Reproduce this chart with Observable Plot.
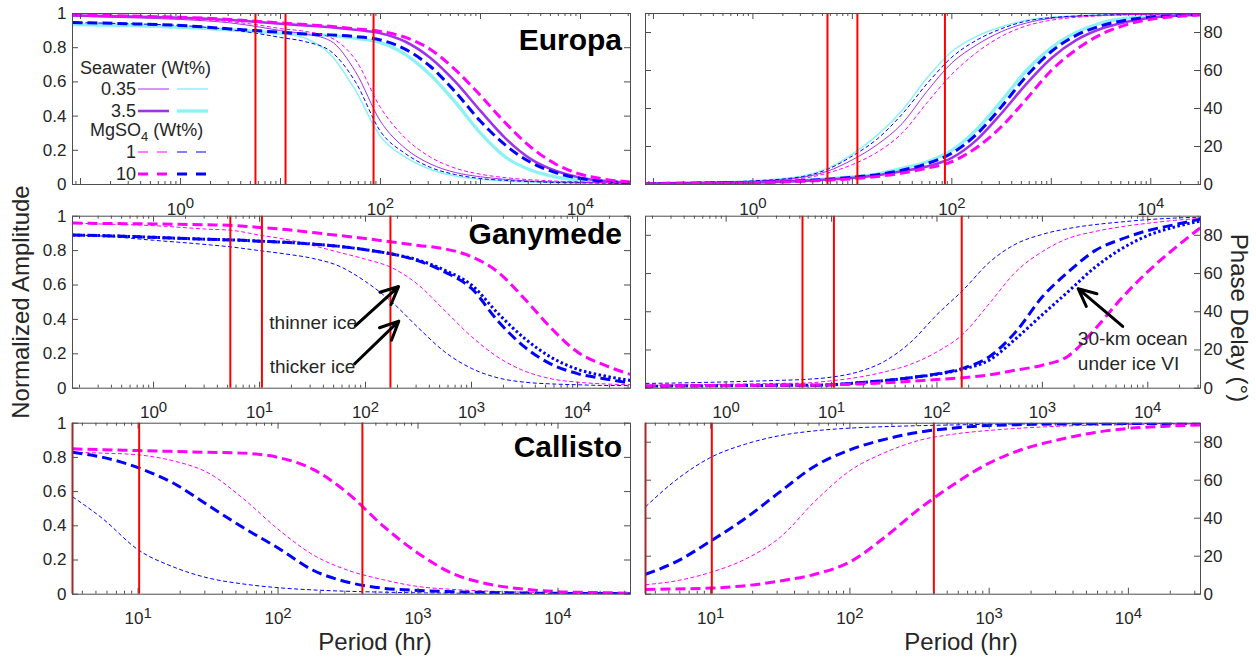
<!DOCTYPE html>
<html><head><meta charset="utf-8">
<script src="https://cdn.jsdelivr.net/npm/d3@7"></script>
<script src="https://cdn.jsdelivr.net/npm/@observablehq/plot@0.6"></script>
<style>
body{margin:0;background:#fff;}
#fig{position:relative;width:1256px;height:658px;overflow:hidden;background:#fff;}
#fig svg{position:absolute;overflow:visible;}
</style></head><body><div id="fig"></div>
<script>
// ---------------- DATA ----------------
// Europa (periods in hours)
const europaPeriods = [0.083,0.316,1,3.16,5.62,10,17.8,31.6,56.2,100,178,316,562,1000,1778,3162,5623,10000,17783,31623];
const europaTidal = [5.62, 11.23, 85.23];
// amplitude
const eAmpSea035a = [0.985,0.975,0.965,0.945,0.925,0.90,0.88,0.84,0.66,0.37,0.21,0.12,0.07,0.045,0.03,0.02,0.015,0.012,0.01,0.008];
const eAmpSea035b = [0.932,0.925,0.915,0.90,0.892,0.885,0.855,0.76,0.55,0.28,0.16,0.088,0.05,0.03,0.02,0.014,0.01,0.008,0.006,0.005];
const eAmpSea35a  = [0.988,0.982,0.975,0.962,0.952,0.94,0.93,0.92,0.905,0.885,0.835,0.74,0.60,0.43,0.27,0.15,0.08,0.04,0.02,0.01];
const eAmpSea35b  = [0.935,0.93,0.92,0.905,0.895,0.885,0.878,0.87,0.855,0.83,0.76,0.64,0.48,0.30,0.16,0.085,0.045,0.023,0.012,0.008];
const eAmpMg1a    = [0.988,0.98,0.97,0.952,0.935,0.912,0.895,0.86,0.73,0.45,0.27,0.16,0.095,0.06,0.04,0.028,0.02,0.015,0.012,0.01];
const eAmpMg1b    = [0.947,0.94,0.93,0.905,0.885,0.86,0.835,0.78,0.60,0.31,0.18,0.10,0.058,0.035,0.024,0.017,0.012,0.01,0.008,0.006];
const eAmpMg10a   = [0.992,0.985,0.978,0.965,0.955,0.945,0.935,0.925,0.91,0.895,0.86,0.79,0.67,0.52,0.36,0.22,0.12,0.06,0.03,0.015];
const eAmpMg10b   = [0.947,0.94,0.93,0.91,0.90,0.89,0.88,0.875,0.865,0.845,0.79,0.69,0.54,0.37,0.23,0.13,0.07,0.035,0.018,0.01];
// phase (degrees)
const ePhSea035a = [0.7,1.1,1.7,3.8,7,13,21,32,49,64,73.5,80.5,85,87.5,88.5,89,89.4,89.6,89.8,90];
const ePhSea035b = [0.8,1.2,2,4.5,8.5,16,26,39,56,70,78,83,86.5,88,88.8,89.3,89.6,89.8,89.9,90];
const ePhSea35a  = [0.5,0.7,1,1.9,2.6,3.5,4.8,7,9.5,14,23.5,37.5,53,66.5,76,82,85.5,87.8,88.8,89.4];
const ePhSea35b  = [0.5,0.8,1.2,2.2,3,4,5.5,8.5,12,18,29,44,60,72,80,85,87.5,88.7,89.3,89.6];
const ePhMg1a    = [0.6,1,1.5,3.2,6,10.5,17,27,43,58,69.5,78,83.5,86.5,88,88.8,89.3,89.6,89.8,90];
const ePhMg1b    = [0.8,1.2,1.9,4.2,8,15,24,37,53,67,76,82,86,87.8,88.7,89.2,89.5,89.7,89.85,90];
const ePhMg10a   = [0.4,0.6,0.9,1.7,2.3,3,4.2,6,8.5,12,19.5,30.5,45,60,71,79,84,87,88.4,89.2];
const ePhMg10b   = [0.5,0.75,1.1,2,2.8,3.8,5.2,7.5,11,16.5,26.5,41,57,70,78.5,83.5,86.5,88.2,89,89.5];

// Ganymede
const ganymedePeriods = [0.172,0.316,1,3.16,5.62,10,17.8,31.6,56.2,100,178,316,562,1000,1778,3162,5623,10000,17783,31623];
const ganymedeTidal = [5.3, 10.53, 171.7];
const gAmpMg10a = [0.96,0.958,0.955,0.95,0.946,0.935,0.922,0.905,0.888,0.87,0.85,0.83,0.81,0.765,0.675,0.52,0.35,0.21,0.135,0.08];
const gAmpMg1a  = [0.96,0.955,0.945,0.925,0.917,0.89,0.865,0.83,0.79,0.75,0.70,0.60,0.45,0.30,0.18,0.10,0.055,0.035,0.025,0.02];
const gAmpMg1b  = [0.89,0.885,0.86,0.835,0.82,0.80,0.78,0.755,0.71,0.62,0.50,0.35,0.21,0.115,0.06,0.035,0.025,0.02,0.016,0.015];
const gAmpMg10b = [0.89,0.887,0.877,0.866,0.862,0.855,0.848,0.838,0.825,0.805,0.78,0.74,0.675,0.58,0.39,0.24,0.14,0.085,0.055,0.03];
const gAmpIceVI = [0.89,0.887,0.877,0.866,0.862,0.855,0.848,0.838,0.825,0.805,0.78,0.745,0.685,0.60,0.435,0.29,0.18,0.11,0.072,0.045];
const gPhMg1b   = [2.5,2.7,3.3,4.1,4.6,5.8,8.5,14,24,38.5,51.5,66,75.5,80.5,83.6,85.6,87,88.2,89,89.5];
const gPhMg1a   = [1.5,1.7,2.1,2.5,2.7,3.9,5.7,8.5,12.5,19,28.5,44.5,61,71.5,78.5,82,84.5,86.3,87.8,88.8];
const gPhMg10b  = [1,1.1,1.3,1.5,1.5,1.8,2.8,4,5.5,7.5,10.5,16.6,29.6,47.8,61,72,78,82.5,85.5,88.5];
const gPhIceVI  = [1,1.1,1.3,1.5,1.5,1.8,2.8,4,5.5,7.3,10,14.8,26,38.5,50.8,63.3,72.9,79.9,84.3,87.5];
const gPhMg10a  = [1.2,1.3,1.4,1.5,1.5,1.8,2.2,2.8,3.6,4.5,5.5,7,9.5,12,17,31,47,61,73,84];

// Callisto
const callistoPeriods = [3.4,5.62,10,17.8,31.6,56.2,100,178,316,562,1000,1778,3162,5623,10000,17783,32960];
const callistoTidal = [3.4, 10.18, 400.5];
const cAmpMg10a = [0.85,0.845,0.84,0.835,0.83,0.825,0.80,0.73,0.59,0.40,0.24,0.12,0.06,0.03,0.015,0.01,0.006];
const cAmpMg1a  = [0.83,0.825,0.815,0.78,0.71,0.56,0.38,0.23,0.14,0.085,0.045,0.028,0.018,0.012,0.008,0.006,0.004];
const cAmpMg10b = [0.83,0.80,0.74,0.65,0.52,0.39,0.27,0.14,0.07,0.035,0.022,0.014,0.01,0.007,0.005,0.004,0.003];
const cAmpMg1b  = [0.57,0.44,0.26,0.16,0.095,0.06,0.038,0.025,0.017,0.012,0.008,0.006,0.005,0.004,0.003,0.003,0.002];
const cPhMg1b   = [46,60,72,79,83.5,86,87.4,88.2,88.7,89.1,89.4,89.6,89.7,89.8,89.85,89.9,89.9];
const cPhMg10b  = [10.5,17,28,40,54,67.5,76,81.5,85.3,87.5,88.8,89.3,89.6,89.7,89.8,89.85,89.9];
const cPhMg1a   = [5,7,11.5,18.5,30,49,65,74.5,81,84.3,86.2,87.5,88.4,89,89.3,89.5,89.7];
const cPhMg10a  = [2.5,2.8,3.2,4.5,7,10.5,17,30,45,58,69,76.5,81.3,85,87.2,88.3,89.1];

// axes / labels
const ampTicks = [0, 0.2, 0.4, 0.6, 0.8, 1];
const phaseTicks = [0, 20, 40, 60, 80];
const topRowLabels = [1, 100, 10000];
const midRowLabels = [1, 10, 100, 1000, 10000];
const botRowLabels = [10, 100, 1000, 10000];
const moonNames = ["Europa", "Ganymede", "Callisto"];
const legendRows = ["0.35", "3.5", "1", "10"];

// annotations (data coordinates: period, value)
const ganymedeAmpArrows = [
  {x1: 80, y1: 0.363, x2: 205, y2: 0.591},
  {x1: 79, y1: 0.142, x2: 206, y2: 0.39}
];
const ganymedeAmpNotes = [
  {x: 83, y: 0.381, text: "thinner ice"},
  {x: 80, y: 0.122, text: "thicker ice"}
];
const ganymedePhaseArrows = [{x1: 5785, y1: 32.3, x2: 2184, y2: 52.1}];
const ganymedePhaseNotes = [{x: 2170, y: 20.2, text: "30-km ocean\nunder ice VI"}];

// ---------------- STYLES ----------------
const FONT = "'Liberation Sans', Arial, Helvetica, sans-serif";
const AX = "#4d4d4d";
const TXT = "#262626";
const PURPLE = "#a033e8", CYAN = "#8cf2f6", MAGENTA = "#ff00ff", BLUE = "#0000ff";
const ST = {
  sea035a: {stroke: PURPLE, strokeWidth: 1},
  sea035b: {stroke: CYAN, strokeWidth: 1.5},
  sea35a:  {stroke: PURPLE, strokeWidth: 2.6},
  sea35b:  {stroke: CYAN, strokeWidth: 3.3},
  mg1a:    {stroke: MAGENTA, strokeWidth: 1, strokeDasharray: "4,2.5"},
  mg1b:    {stroke: BLUE, strokeWidth: 1, strokeDasharray: "4,2.5"},
  mg10a:   {stroke: MAGENTA, strokeWidth: 3, strokeDasharray: "10,5"},
  mg10b:   {stroke: BLUE, strokeWidth: 3, strokeDasharray: "10,5"},
  iceVI:   {stroke: BLUE, strokeWidth: 3, strokeDasharray: "2.5,2.5"}
};

const COLS = [{left: 0, width: 640, mL: 72, mR: 10}, {left: 635, width: 621, mL: 10, mR: 56}];
const ROWS = [
  {top: 0, height: 215, mT: 13, mB: 31, domain: [0.0832, 31623]},
  {top: 200, height: 230, mT: 15.7, mB: 42.3, domain: [0.1718, 31623]},
  {top: 410, height: 220, mT: 12.7, mB: 36.3, domain: [3.4, 32960]}
];

const fig = document.getElementById("fig");

function panel(r, c, cfg) {
  const R = ROWS[r], C = COLS[c];
  const fw = C.width - C.mL - C.mR, fh = R.height - R.mT - R.mB;
  const [d0, d1] = R.domain;
  const major = [], minor = [];
  for (let k = Math.floor(Math.log10(d0)); k <= Math.ceil(Math.log10(d1)); k++) {
    for (let m = 1; m <= 9; m++) {
      const v = m * Math.pow(10, k);
      if (v < d0 * 0.999 || v > d1 * 1.001) continue;
      (m === 1 ? major : minor).push(v);
    }
  }
  const marks = [];
  for (const s of cfg.series) {
    const pts = s.values.map((v, i) => ({p: cfg.periods[i], v}));
    marks.push(Plot.line(pts, {x: "p", y: "v", curve: "monotone-x", clip: true, strokeLinecap: "butt", strokeLinejoin: "round", ...ST[s.style]}));
  }
  marks.push(Plot.ruleX(cfg.tidal, {x: d => d, stroke: "#ff0000", strokeWidth: 2}));
  // box ticks (inward)
  marks.push(Plot.tickX(major, {x: d => d, stroke: AX, insetTop: fh - 6}));
  marks.push(Plot.tickX(major, {x: d => d, stroke: AX, insetBottom: fh - 6}));
  marks.push(Plot.tickX(minor, {x: d => d, stroke: AX, insetTop: fh - 3}));
  marks.push(Plot.tickX(minor, {x: d => d, stroke: AX, insetBottom: fh - 3}));
  marks.push(Plot.tickY(cfg.yTicks, {y: d => d, stroke: AX, insetRight: fw - 6}));
  marks.push(Plot.tickY(cfg.yTicks, {y: d => d, stroke: AX, insetLeft: fw - 6}));
  marks.push(Plot.frame({stroke: AX, strokeWidth: 1}));
  marks.push(Plot.axisX(cfg.xLabels, {anchor: "bottom", label: null, tickSize: 0, tickPadding: 18, fontSize: 17, fill: TXT,
    tickFormat: d => "10^" + Math.round(Math.log10(d))}));
  marks.push(Plot.axisY(cfg.yTicks, {anchor: c === 0 ? "left" : "right", label: null, tickSize: 0, tickPadding: c === 0 ? 6 : 3, fontSize: 17, fill: TXT,
    tickFormat: d => String(d)}));
  if (cfg.extra) marks.push(...cfg.extra);
  const svg = Plot.plot({
    width: C.width, height: R.height,
    marginLeft: C.mL, marginRight: C.mR, marginTop: R.mT, marginBottom: R.mB,
    x: {type: "log", domain: R.domain, label: null},
    y: {domain: cfg.yDomain, label: null},
    style: {fontFamily: FONT, fontSize: "17px", color: TXT, background: "transparent", overflow: "visible"},
    marks
  });
  // superscript exponents in tick labels
  d3.select(svg).selectAll("text").each(function() {
    const m = /^10\^(\d)$/.exec(this.textContent);
    if (!m) return;
    const t = d3.select(this);
    t.text(null);
    t.append("tspan").text("10");
    t.append("tspan").attr("dy", "-0.45em").attr("font-size", "0.88em").text(m[1]);
  });
  svg.style.left = C.left + "px";
  svg.style.top = R.top + "px";
  fig.appendChild(svg);
  return svg;
}

// Europa
panel(0, 0, {periods: europaPeriods, tidal: europaTidal, yDomain: [0, 1], yTicks: ampTicks, xLabels: topRowLabels,
  series: [
    {values: eAmpSea035b, style: "sea035b"}, {values: eAmpSea35b, style: "sea35b"},
    {values: eAmpSea035a, style: "sea035a"}, {values: eAmpSea35a, style: "sea35a"},
    {values: eAmpMg1b, style: "mg1b"}, {values: eAmpMg10b, style: "mg10b"},
    {values: eAmpMg1a, style: "mg1a"}, {values: eAmpMg10a, style: "mg10a"}
  ]});
panel(0, 1, {periods: europaPeriods, tidal: europaTidal, yDomain: [0, 90], yTicks: phaseTicks, xLabels: topRowLabels,
  series: [
    {values: ePhSea035b, style: "sea035b"}, {values: ePhSea35b, style: "sea35b"},
    {values: ePhSea035a, style: "sea035a"}, {values: ePhSea35a, style: "sea35a"},
    {values: ePhMg1b, style: "mg1b"}, {values: ePhMg10b, style: "mg10b"},
    {values: ePhMg1a, style: "mg1a"}, {values: ePhMg10a, style: "mg10a"}
  ]});
// Ganymede
panel(1, 0, {periods: ganymedePeriods, tidal: ganymedeTidal, yDomain: [0, 1], yTicks: ampTicks, xLabels: midRowLabels,
  series: [
    {values: gAmpMg1b, style: "mg1b"}, {values: gAmpMg1a, style: "mg1a"},
    {values: gAmpMg10b, style: "mg10b"}, {values: gAmpIceVI, style: "iceVI"},
    {values: gAmpMg10a, style: "mg10a"}
  ],
  extra: [
    Plot.arrow(ganymedeAmpArrows, {x1: "x1", y1: "y1", x2: "x2", y2: "y2", stroke: "black", strokeWidth: 3, headLength: 12, headAngle: 50}),
    Plot.text(ganymedeAmpNotes, {x: "x", y: "y", text: "text", textAnchor: "end", lineAnchor: "middle", fontSize: 19, fill: TXT})
  ]});
panel(1, 1, {periods: ganymedePeriods, tidal: ganymedeTidal, yDomain: [0, 90], yTicks: phaseTicks, xLabels: midRowLabels,
  series: [
    {values: gPhMg1b, style: "mg1b"}, {values: gPhMg1a, style: "mg1a"},
    {values: gPhMg10b, style: "mg10b"}, {values: gPhIceVI, style: "iceVI"},
    {values: gPhMg10a, style: "mg10a"}
  ],
  extra: [
    Plot.arrow(ganymedePhaseArrows, {x1: "x1", y1: "y1", x2: "x2", y2: "y2", stroke: "black", strokeWidth: 3, headLength: 12, headAngle: 50}),
    Plot.text(ganymedePhaseNotes, {x: "x", y: "y", text: "text", textAnchor: "start", lineAnchor: "middle", lineHeight: 1.32, fontSize: 19, fill: TXT})
  ]});
// Callisto
panel(2, 0, {periods: callistoPeriods, tidal: callistoTidal, yDomain: [0, 1], yTicks: ampTicks, xLabels: botRowLabels,
  series: [
    {values: cAmpMg1b, style: "mg1b"}, {values: cAmpMg1a, style: "mg1a"},
    {values: cAmpMg10b, style: "mg10b"}, {values: cAmpMg10a, style: "mg10a"}
  ]});
panel(2, 1, {periods: callistoPeriods, tidal: callistoTidal, yDomain: [0, 90], yTicks: phaseTicks, xLabels: botRowLabels,
  series: [
    {values: cPhMg1b, style: "mg1b"}, {values: cPhMg1a, style: "mg1a"},
    {values: cPhMg10b, style: "mg10b"}, {values: cPhMg10a, style: "mg10a"}
  ]});

// ---------------- page-level text & legend ----------------
const ov = d3.create("svg").attr("width", 1256).attr("height", 658)
  .style("left", "0px").style("top", "0px").style("pointer-events", "none")
  .attr("font-family", FONT).attr("fill", TXT);

// moon names
[[49.5, moonNames[0]], [244, moonNames[1]], [456.5, moonNames[2]]].forEach(([y, t]) =>
  ov.append("text").attr("x", 622).attr("y", y).attr("text-anchor", "end")
    .attr("font-size", 30).attr("font-weight", "bold").attr("fill", "#000").text(t));

// axis titles
ov.append("text").attr("transform", "translate(29,302) rotate(-90)").attr("text-anchor", "middle")
  .attr("font-size", 24).text("Normalized Amplitude");
ov.append("text").attr("transform", "translate(1231,318) rotate(90)").attr("text-anchor", "middle")
  .attr("font-size", 24).text("Phase Delay (°)");
ov.append("text").attr("x", 375).attr("y", 650).attr("text-anchor", "middle").attr("font-size", 24).text("Period (hr)");
ov.append("text").attr("x", 961).attr("y", 650).attr("text-anchor", "middle").attr("font-size", 24).text("Period (hr)");

// legend
const lg = ov.append("g").attr("font-size", 18);
lg.append("text").attr("x", 80).attr("y", 74).text("Seawater (Wt%)");
const mg = lg.append("text").attr("x", 90).attr("y", 136);
mg.append("tspan").text("MgSO");
mg.append("tspan").attr("dy", 5).attr("font-size", 13).text("4");
mg.append("tspan").attr("dy", -5).text(" (Wt%)");
const legendY = [95, 117, 158, 180];
const legendStyles = [["sea035a", "sea035b"], ["sea35a", "sea35b"], ["mg1a", "mg1b"], ["mg10a", "mg10b"]];
legendRows.forEach((lab, i) => {
  lg.append("text").attr("x", 136).attr("y", legendY[i]).attr("text-anchor", "end").text(lab);
  const ly = legendY[i] - 6;
  legendStyles[i].forEach((k, j) => {
    const s = ST[k];
    lg.append("line").attr("x1", j ? 177 : 138).attr("x2", j ? 208 : 169).attr("y1", ly).attr("y2", ly)
      .attr("stroke", s.stroke).attr("stroke-width", s.strokeWidth)
      .attr("stroke-dasharray", s.strokeDasharray ? "10,9" : null);
  });
});
fig.appendChild(ov.node());
</script></body></html>
